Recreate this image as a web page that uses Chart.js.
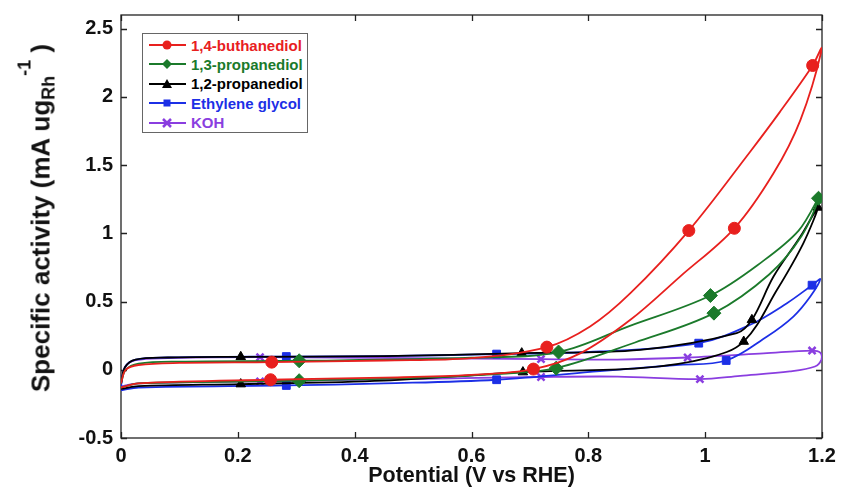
<!DOCTYPE html>
<html>
<head>
<meta charset="utf-8">
<script src="https://cdn.jsdelivr.net/npm/chart.js@4.4.1/dist/chart.umd.min.js"></script>
<style>
  body { margin: 0; background: #fff; }
  #wrap { position: relative; width: 844px; height: 490px; }
  #ytitle {
    position: absolute; left: 41px; top: 218px;
    transform: translate(-50%, -50%) rotate(-90deg);
    white-space: nowrap; line-height: 1;
    font: bold 26px "Liberation Sans", Arial, sans-serif; color: #111;
  }
  #ytitle .sub { font-size: 18px; position: relative; top: 5px; }
  #ytitle .sup { font-size: 18px; position: relative; top: -19px; }
  #legend {
    position: absolute; left: 142px; top: 33px; width: 166px; height: 100px;
    box-sizing: border-box; border: 1px solid #666; background: #fff;
    font: bold 15px "Liberation Sans", Arial, sans-serif;
  }
  .item { position: absolute; left: 6px; height: 19px; display: flex; align-items: center; white-space: nowrap; }
  .item span { margin-left: 5px; }
</style>
</head>
<body>
<div id="wrap">
  <canvas id="cv" width="844" height="490"></canvas>
  <div id="ytitle">Specific activity (mA ug<span class="sub">Rh</span><span class="sup">-1</span> )</div>
  <div id="legend"></div>
</div>
<script>
const FONT = '"Liberation Sans", Arial, sans-serif';

const xTicks = [0, 0.2, 0.4, 0.6, 0.8, 1, 1.2];
const yTicks = [-0.5, 0, 0.5, 1, 1.5, 2, 2.5];

const seriesNames = ['1,4-buthanediol', '1,3-propanediol', '1,2-propanediol', 'Ethylene glycol', 'KOH'];
const seriesColors = ['#e8201e', '#1b7a2b', '#000000', '#1c2fe6', '#8a3ee0'];
const seriesStyles = ['circle', 'rectRot', 'triangle', 'rect', 'crossRot'];

// each loop: out along the lower branch to 1.2 V, back along the upper branch
const butV = [0, 0.03, 0.256, 0.45, 0.6, 0.706, 0.786, 0.872, 0.957, 1.05, 1.117, 1.163, 1.2,
  1.184, 1.128, 1.077, 0.972, 0.872, 0.803, 0.729, 0.6, 0.45, 0.258, 0.1, 0.03, 0.008, 0];
const butI = [-0.13, -0.1, -0.073, -0.058, -0.038, 0.005, 0.12, 0.366, 0.683, 1.037, 1.44, 1.83, 2.355,
  2.23, 1.89, 1.598, 1.02, 0.561, 0.317, 0.166, 0.085, 0.068, 0.056, 0.05, 0.035, 0.0, -0.1];
const butMarks = [2, 5, 9, 13, 16, 19, 22];

const pro13V = [0, 0.03, 0.305, 0.5, 0.65, 0.745, 0.88, 1.015, 1.11, 1.165, 1.194,
  1.16, 1.1, 1.009, 0.87, 0.749, 0.6, 0.305, 0.1, 0.03, 0.008, 0];
const pro13I = [-0.13, -0.1, -0.08, -0.06, -0.03, 0.012, 0.2, 0.415, 0.7, 0.98, 1.257,
  1.02, 0.8, 0.544, 0.32, 0.13, 0.088, 0.066, 0.06, 0.045, 0.0, -0.1];
const pro13Marks = [2, 5, 7, 10, 13, 15, 17];

const pro12V = [0, 0.03, 0.205, 0.45, 0.688, 0.889, 1.003, 1.066, 1.123, 1.168, 1.193,
  1.163, 1.117, 1.08, 1.054, 0.889, 0.686, 0.45, 0.205, 0.08, 0.025, 0.007, 0];
const pro12I = [-0.14, -0.12, -0.105, -0.08, -0.017, 0.012, 0.086, 0.207, 0.586, 0.927, 1.19,
  0.976, 0.683, 0.366, 0.268, 0.146, 0.122, 0.1, 0.095, 0.09, 0.075, 0.02, -0.1];
const pro12Marks = [2, 4, 7, 10, 13, 16, 18];

const egV = [0, 0.03, 0.283, 0.45, 0.643, 0.82, 0.95, 1.036, 1.106, 1.151, 1.18, 1.197,
  1.183, 1.14, 1.077, 0.989, 0.82, 0.643, 0.45, 0.283, 0.08, 0.025, 0.007, 0];
const egI = [-0.15, -0.13, -0.115, -0.1, -0.073, -0.01, 0.035, 0.068, 0.244, 0.39, 0.537, 0.664,
  0.62, 0.488, 0.33, 0.195, 0.134, 0.115, 0.1, 0.097, 0.09, 0.075, 0.02, -0.12];
const egMarks = [2, 4, 7, 12, 15, 17, 19];

const kohV = [0, 0.03, 0.238, 0.5, 0.719, 0.85, 0.991, 1.06, 1.145, 1.188, 1.199, 1.197,
  1.183, 1.1, 0.97, 0.85, 0.719, 0.5, 0.238, 0.08, 0.025, 0.007, 0];
const kohI = [-0.12, -0.1, -0.085, -0.068, -0.053, -0.05, -0.068, -0.044, -0.012, 0.024, 0.075, 0.125,
  0.141, 0.12, 0.09, 0.075, 0.078, 0.085, 0.093, 0.085, 0.07, 0.02, -0.1];
const kohMarks = [2, 4, 6, 12, 14, 16, 18];

const loops = [
  [butV, butI, butMarks],
  [pro13V, pro13I, pro13Marks],
  [pro12V, pro12I, pro12Marks],
  [egV, egI, egMarks],
  [kohV, kohI, kohMarks],
];
const markerSize = [6, 7, 5.5, 5.5, 5];

const datasets = loops.map(([xs, ys, marks], k) => ({
  label: seriesNames[k],
  data: xs.map((v, i) => ({ x: v, y: ys[i] })),
  showLine: true,
  borderColor: seriesColors[k],
  backgroundColor: seriesColors[k],
  borderWidth: 1.8,
  tension: 0.35,
  pointStyle: seriesStyles[k],
  pointRadius: c => marks.includes(c.dataIndex) ? markerSize[k] : 0,
  pointHoverRadius: 0,
  pointBorderWidth: seriesStyles[k] === 'crossRot' ? 2.5 : 1,
}));

// box round the plot with inward ticks on all four sides
const framePlugin = {
  id: 'frame',
  beforeDatasetsDraw(chart) {
    const { ctx, chartArea: a, scales: { x, y } } = chart;
    ctx.save();
    ctx.strokeStyle = '#222';
    ctx.lineWidth = 1.3;
    ctx.strokeRect(a.left, a.top, a.right - a.left, a.bottom - a.top);
    ctx.beginPath();
    x.ticks.forEach(t => {
      const px = Math.round(x.getPixelForValue(t.value)) + 0.5;
      ctx.moveTo(px, a.bottom); ctx.lineTo(px, a.bottom - 6);
      ctx.moveTo(px, a.top); ctx.lineTo(px, a.top + 6);
    });
    y.ticks.forEach(t => {
      const py = Math.round(y.getPixelForValue(t.value)) + 0.5;
      ctx.moveTo(a.left, py); ctx.lineTo(a.left + 6, py);
      ctx.moveTo(a.right, py); ctx.lineTo(a.right - 6, py);
    });
    ctx.stroke();
    ctx.restore();
  }
};

new Chart(document.getElementById('cv'), {
  type: 'scatter',
  data: { datasets },
  plugins: [framePlugin],
  options: {
    responsive: false,
    animation: false,
    layout: { padding: { top: 15, right: 22, left: 0, bottom: 0 } },
    plugins: { legend: { display: false }, tooltip: { enabled: false } },
    scales: {
      x: {
        type: 'linear', min: 0, max: 1.2,
        grid: { display: false, drawTicks: false },
        border: { display: false },
        afterBuildTicks: s => { s.ticks = xTicks.map(v => ({ value: v })); },
        afterFit: s => { s.height = 52; s.paddingLeft = 0; s.paddingRight = 0; },
        ticks: {
          padding: 6, color: '#111', maxRotation: 0, autoSkip: false,
          font: { family: FONT, size: 20, weight: 'bold' },
          callback: v => String(v)
        },
        title: {
          display: true, text: 'Potential (V vs RHE)', color: '#111',
          font: { family: FONT, size: 21.5, weight: 'bold' },
          padding: { top: 0, bottom: 1 }
        }
      },
      y: {
        type: 'linear', min: -0.5, max: 2.6,
        grid: { display: false, drawTicks: false },
        border: { display: false },
        afterBuildTicks: s => { s.ticks = yTicks.map(v => ({ value: v })); },
        afterFit: s => { s.width = 121; s.paddingTop = 0; s.paddingBottom = 0; },
        ticks: {
          padding: 8, color: '#111', autoSkip: false,
          font: { family: FONT, size: 20, weight: 'bold' },
          callback: v => String(v)
        }
      }
    }
  }
});

// legend with line + marker samples
const icons = {
  circle: c => `<circle cx="18" cy="8" r="4.5" fill="${c}"/>`,
  rectRot: c => `<polygon points="18,3 23,8 18,13 13,8" fill="${c}"/>`,
  triangle: c => `<polygon points="18,3 23,12 13,12" fill="${c}"/>`,
  rect: c => `<rect x="14.5" y="4.5" width="7" height="7" fill="${c}"/>`,
  crossRot: c => `<path d="M14,4 L22,12 M22,4 L14,12" stroke="${c}" stroke-width="2.5"/>`,
};
const legend = document.getElementById('legend');
seriesNames.forEach((name, k) => {
  const c = seriesColors[k];
  const row = document.createElement('div');
  row.className = 'item';
  row.style.top = (1.5 + k * 19.4) + 'px';
  row.innerHTML = `<svg width="37" height="16"><line x1="0" y1="8" x2="37" y2="8" stroke="${c}" stroke-width="2"/>${icons[seriesStyles[k]](c)}</svg><span style="color:${c}">${name}</span>`;
  legend.appendChild(row);
});
</script>
</body>
</html>
